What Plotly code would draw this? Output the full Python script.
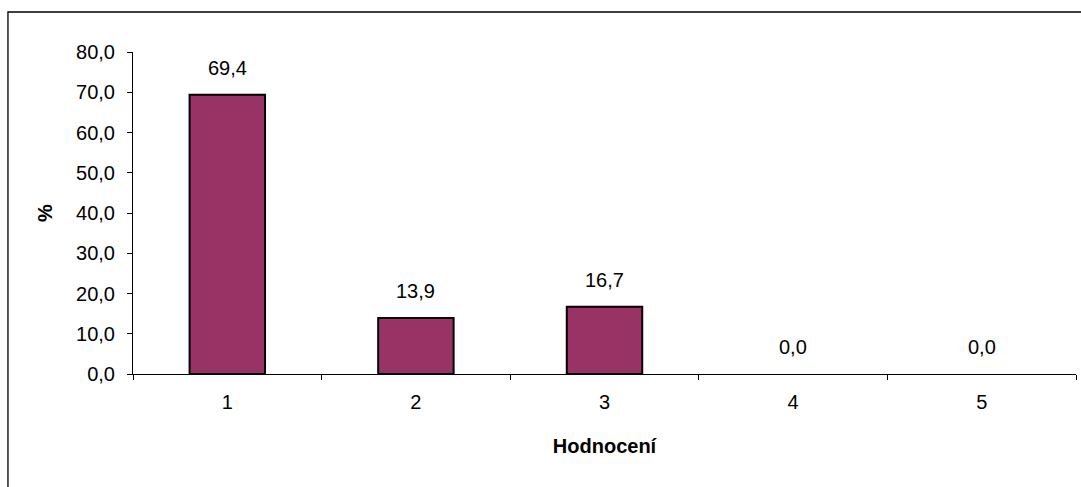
import plotly.graph_objects as go

# Rating categories and share of responses (%)
categories = ["1", "2", "3", "4", "5"]
values = [69.4, 13.9, 16.7, 0.0, 0.0]
y_ticks = [0, 10, 20, 30, 40, 50, 60, 70, 80]

BAR_COLOR = "#993366"
FONT = "Liberation Sans, Arial, sans-serif"
SIZE = 20

fig = go.Figure()
fig.add_trace(go.Bar(
    x=categories,
    y=values,
    width=0.4,
    # empty bars get no outline
    marker=dict(color=BAR_COLOR,
                line=dict(color="black", width=[2 if v > 0 else 0 for v in values])),
    hoverinfo="skip",
))

# value labels above each bar
for i, v in enumerate(values):
    fig.add_annotation(
        x=i, y=v, xref="x", yref="y",
        text=f"{v:.1f}".replace(".", ","),
        showarrow=False, yanchor="middle", yshift=27,
        font=dict(family=FONT, size=SIZE, color="black"),
    )

# outer chart frame
fig.add_shape(
    type="rect", xref="paper", yref="paper",
    x0=-0.1326, x1=1.2, y0=-0.6, y1=1.1242,
    line=dict(color="black", width=1.3), layer="below",
)

fig.update_layout(
    width=1081, height=487,
    margin=dict(l=133, r=5, t=52, b=113),
    paper_bgcolor="white", plot_bgcolor="white",
    separators=",.",
    showlegend=False,
    font=dict(family=FONT, size=SIZE, color="black"),
    xaxis=dict(
        type="category", categoryorder="array", categoryarray=categories,
        range=[-0.5, 4.5],
        showline=True, linecolor="black", linewidth=1,
        ticks="outside", tickson="boundaries", ticklen=5, tickcolor="black",
        ticklabelstandoff=10,
        showgrid=False, zeroline=False,
        title=dict(text="<b>Hodnocení</b>", standoff=26,
                   font=dict(family=FONT, size=SIZE)),
    ),
    yaxis=dict(
        range=[0, 80], tickvals=y_ticks, tickformat=".1f",
        showline=True, linecolor="black", linewidth=1,
        ticks="outside", ticklen=5, tickcolor="black",
        ticklabelstandoff=8,
        showgrid=False, zeroline=False,
        title=dict(text="<b>%</b>", standoff=18,
                   font=dict(family=FONT, size=SIZE)),
    ),
)

fig.write_html("out.html")
